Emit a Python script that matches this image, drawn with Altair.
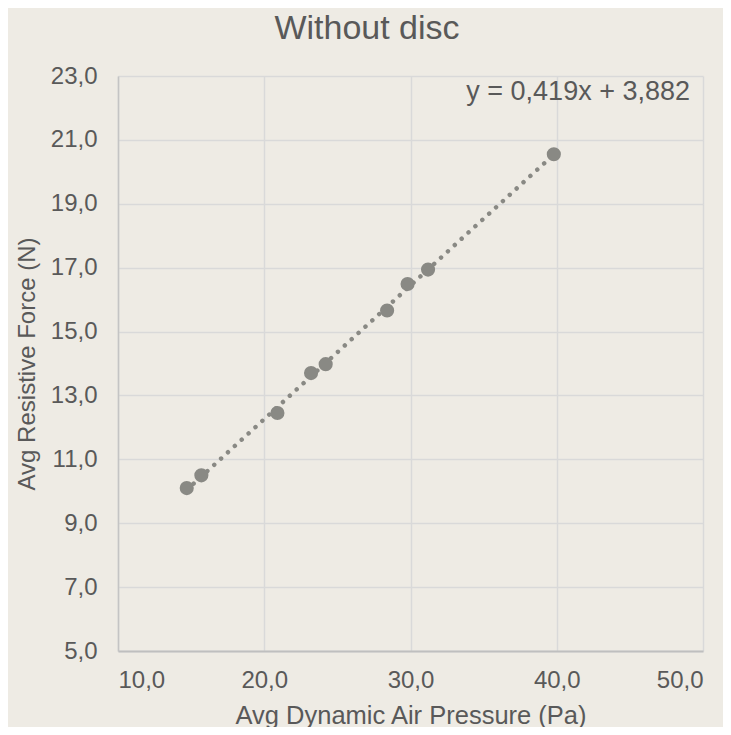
import altair as alt
import pandas as pd

# Data
pressure = [14.7, 15.7, 20.9, 23.2, 24.2, 28.4, 29.8, 31.2, 39.8]
force = [10.1, 10.5, 12.45, 13.7, 13.98, 15.66, 16.49, 16.94, 20.55]
x_ticks = [10, 20, 30, 40, 50]
y_ticks = [5, 7, 9, 11, 13, 15, 17, 19, 21, 23]
equation = ["y = 0,419x + 3,882"]
title_text = ["Without disc"]

BG = "#EEEBE4"
TXT = "#595959"
PT = "#898984"
FONT = "Liberation Sans"

df = pd.DataFrame({"x": pressure, "y": force})
eq_df = pd.DataFrame({"label": equation})
title_df = pd.DataFrame({"label": title_text})

comma = "replace(format(datum.value, '.1f'), '.', ',')"

x_enc = alt.X(
    "x:Q",
    scale=alt.Scale(domain=[10, 50], nice=False, zero=False),
    axis=alt.Axis(
        values=x_ticks, labelExpr=comma, title="Avg Dynamic Air Pressure  (Pa)",
        grid=True, gridColor="#D9D9D9", gridWidth=1.5,
        domainColor="#BFBFBF", domainWidth=2, ticks=False,
        labelFont=FONT, labelFontSize=24, labelColor=TXT, labelPadding=17,
        titleFont=FONT, titleFontSize=25.5, titleColor=TXT, titleFontWeight="normal",
        titleY=72, titleBaseline="alphabetic",
    ),
)
y_enc = alt.Y(
    "y:Q",
    scale=alt.Scale(domain=[5, 23], nice=False, zero=False),
    axis=alt.Axis(
        values=y_ticks, labelExpr=comma, title="Avg Resistive Force (N)",
        grid=True, gridColor="#D9D9D9", gridWidth=1.5,
        domainColor="#C4C4C4", domainWidth=1.5, ticks=False,
        labelFont=FONT, labelFontSize=24, labelColor=TXT, labelPadding=21,
        titleFont=FONT, titleFontSize=24, titleColor=TXT, titleFontWeight="normal",
        titleX=-84, titleBaseline="alphabetic",
    ),
)

trend = (
    alt.Chart(df)
    .transform_regression("x", "y", method="linear", extent=[min(pressure), max(pressure)])
    .mark_line(color=PT, strokeWidth=4.5, strokeDash=[0.01, 9.3], strokeCap="round")
    .encode(x=x_enc, y=y_enc)
)

points = (
    alt.Chart(df)
    .mark_circle(color=PT, size=200, opacity=1)
    .encode(x=x_enc, y=y_enc)
)

eq = (
    alt.Chart(eq_df)
    .mark_text(align="right", baseline="alphabetic", font=FONT, fontSize=27, color=TXT)
    .encode(text="label:N", x=alt.value(572), y=alt.value(24))
)

title = (
    alt.Chart(title_df)
    .mark_text(align="center", baseline="alphabetic", font=FONT, fontSize=34, color=TXT)
    .encode(text="label:N", x=alt.value(249), y=alt.value(-37))
)

chart = (
    alt.layer(trend, points, eq, title)
    .properties(
        width=585,
        height=575,
        background=BG,
        padding={"left": 110, "top": 68, "right": 20, "bottom": 76},
        autosize=alt.AutoSizeParams(type="none"),
    )
    .configure_view(stroke=None)
)

chart.save("out.html", embed_options={"renderer": "svg", "actions": False})
